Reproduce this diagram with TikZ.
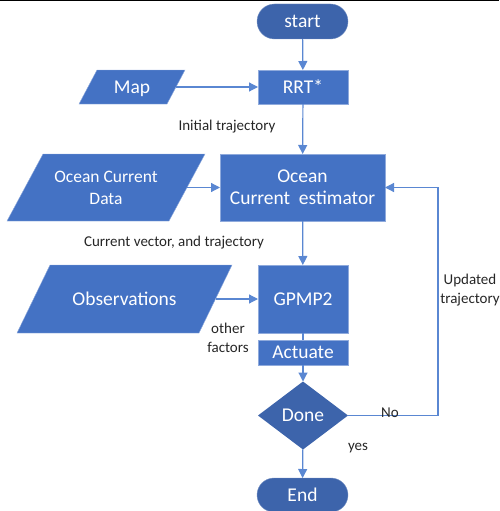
\documentclass[tikz,border=0pt]{standalone}
\usepackage{fontspec}
\setmainfont{Carlito}
\usetikzlibrary{shapes.geometric,shapes.misc,arrows.meta,backgrounds}
\definecolor{boxblue}{HTML}{4472C4}
\definecolor{darkblue}{HTML}{3D64AB}
\definecolor{lineblue}{HTML}{5A87D2}
\definecolor{labelgray}{HTML}{262626}
\tikzset{
  procbox/.style={rectangle, fill=boxblue, draw=boxblue!60!white, line width=0.4pt, text=white, font=\fontsize{19.5}{22}\selectfont, inner sep=0pt, outer sep=0pt, align=center},
  termbox/.style={rounded rectangle, fill=darkblue, draw=darkblue!70!white, line width=0.4pt, text=white, font=\fontsize{19.5}{22}\selectfont, minimum width=91pt, minimum height=35pt, inner sep=0pt, outer sep=0pt},
  databox/.style={rectangle, text=white, font=\fontsize{19.5}{22}\selectfont, inner sep=0pt, outer sep=0pt, align=center},
  parafill/.style={fill=boxblue, draw=boxblue!60!white, line width=0.4pt},
  decbox/.style={diamond, fill=darkblue, text=white, font=\fontsize{19.5}{22}\selectfont, inner sep=0pt, outer sep=0pt, minimum width=90pt, minimum height=68pt, aspect=1.32},
  flow/.style={draw=lineblue, line width=1.2pt, -{Triangle[length=9pt,width=9pt]}},
  plainflow/.style={draw=lineblue, line width=1.2pt},
  lbl/.style={text=labelgray, font=\fontsize{15}{18.5}\selectfont, inner sep=0pt, align=center}
}
\newcommand{\parashape}[2]{%
  \begin{scope}[on background layer]
  \path[parafill] ([xshift=#2/2]#1.north west) -- ([xshift=#2/2]#1.north east)
     -- ([xshift=-#2/2]#1.south east) -- ([xshift=-#2/2]#1.south west) -- cycle;
  \end{scope}}
\begin{document}
\begin{tikzpicture}[x=1pt,y=-1pt]
\clip (0,0) rectangle (499,511);
\useasboundingbox (0,0) rectangle (499,511);
\draw[black, line width=2.5pt] (0,0) -- (499,0);

\node[termbox] (start) at (302.5,21.5) {start};
\node[procbox, minimum width=90pt, minimum height=34pt] (rrt) at (303,87) {RRT*};
\node[databox, minimum width=88pt, minimum height=34pt, text depth=0pt] (map) at (132,87) {Map};
\parashape{map}{18pt}
\node[procbox, minimum width=165pt, minimum height=67pt] (est) at (302.5,187.5) {Ocean\\Current\ \ estimator};
\node[databox, minimum width=162pt, minimum height=67pt, font=\fontsize{17.5}{22}\selectfont] (ocd) at (106,187.5) {Ocean Current\\Data};
\parashape{ocd}{36pt}
\node[procbox, minimum width=90pt, minimum height=68pt] (gpmp) at (303,299) {GPMP2};
\node[databox, minimum width=182pt, minimum height=68pt] (obs) at (124.5,299) {Observations};
\parashape{obs}{33pt}
\node[procbox, minimum width=90pt, minimum height=25pt] (act) at (303,352.5) {Actuate};
\node[decbox] (done) at (303,415.5) {Done};
\node[termbox, minimum height=34pt] (end) at (302.5,495) {End};

\coordinate (c1) at (438,415.5);
\coordinate (c2) at (438,187.5);

\draw[flow] (start) -- (rrt);
\draw[flow] (map) -- (rrt);
\draw[flow] (rrt) -- (est);
\draw[flow] (ocd) -- (est);
\draw[flow] (est) -- (gpmp);
\draw[flow] (obs) -- (gpmp);
\draw[plainflow] (gpmp) -- (act);
\draw[flow] (act) -- (done);
\draw[flow] (done) -- (end);
\draw[flow] (done.east) -- (c1) -- (c2) -- (est.east);

\node[lbl] (l1) at (227,127) {Initial trajectory};
\node[lbl] (l2) at (174,243) {Current vector, and trajectory};
\node[lbl] (l3) at (228,338) {other\\factors};
\node[lbl] (l4) at (358,448) {yes};
\node[lbl] (l5) at (390,413) {No};
\node[lbl] (l6) at (470,290) {Updated\\trajectory};
\end{tikzpicture}
\end{document}
